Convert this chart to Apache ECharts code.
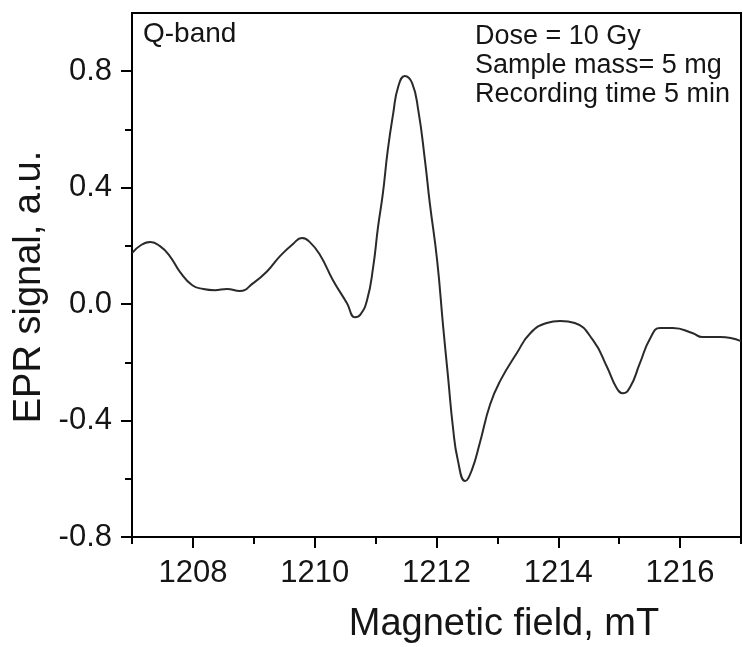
<!DOCTYPE html>
<html>
<head>
<meta charset="utf-8">
<script src="https://cdn.jsdelivr.net/npm/echarts@6/dist/echarts.min.js"></script>
<style>
html,body{margin:0;padding:0;background:#fff;}
#chart{width:743px;height:647px;}
</style>
</head>
<body>
<div id="chart"></div>
<script>
// Magnetic field (mT)
var fieldValues = [1207.00,1207.15,1207.30,1207.46,1207.62,1207.79,1207.99,1208.17,1208.36,1208.56,1208.77,1208.99,1209.22,1209.43,1209.64,1209.79,1209.92,1210.09,1210.30,1210.53,1210.66,1210.75,1210.86,1210.96,1211.04,1211.12,1211.20,1211.29,1211.37,1211.48,1211.60,1211.70,1211.81,1211.89,1212.01,1212.11,1212.19,1212.27,1212.35,1212.47,1212.58,1212.71,1212.88,1213.05,1213.32,1213.54,1213.81,1214.03,1214.27,1214.57,1214.80,1214.96,1215.06,1215.18,1215.34,1215.51,1215.67,1215.88,1216.21,1216.36,1216.66,1217.00];
// EPR signal (a.u.)
var signalValues = [0.175,0.203,0.213,0.199,0.165,0.110,0.065,0.052,0.048,0.052,0.045,0.072,0.113,0.165,0.206,0.227,0.213,0.168,0.082,0.003,-0.045,-0.036,0.014,0.127,0.265,0.381,0.529,0.656,0.746,0.784,0.759,0.667,0.495,0.347,0.151,-0.079,-0.251,-0.423,-0.536,-0.608,-0.570,-0.478,-0.345,-0.262,-0.168,-0.100,-0.065,-0.058,-0.065,-0.124,-0.216,-0.289,-0.306,-0.285,-0.203,-0.117,-0.082,-0.082,-0.100,-0.113,-0.113,-0.127];

var xMajorTicks = [1208,1210,1212,1214,1216];
var xMinorTicks = [1207,1209,1211,1213,1215,1217];
var yMajorTicks = [-0.8,-0.4,0.0,0.4,0.8];
var yMinorTicks = [-0.6,-0.2,0.2,0.6];

var xTitle = 'Magnetic field, mT';
var yTitle = 'EPR signal, a.u.';
var noteLeft = 'Q-band';
var noteRight = ['Dose = 10 Gy','Sample mass= 5 mg','Recording time 5 min'];

var FONT = '"Liberation Sans", Arial, sans-serif';
var TXT = '#151515';

var data = fieldValues.map(function(v,i){return [v, signalValues[i]];});

var chart = echarts.init(document.getElementById('chart'));
var axisLineStyle = {color:'#000', width:2};
chart.setOption({
  animation:false,
  backgroundColor:'#fff',
  grid:{left:132, right:2, top:13, bottom:110, show:true, borderColor:'#000', borderWidth:2, backgroundColor:'transparent'},
  xAxis:[{
    type:'value', min:1207, max:1217, interval:1,
    axisLine:{show:true, onZero:false, lineStyle:axisLineStyle},
    axisTick:{show:true, inside:false, length:11, lineStyle:{color:'#000',width:2}, customValues:xMajorTicks},
    axisLabel:{show:true, margin:21, fontSize:31, fontFamily:FONT, color:TXT, customValues:xMajorTicks,
      formatter:function(v){return String(v);}},
    splitLine:{show:false}
  },{
    type:'value', min:1207, max:1217, interval:1, position:'bottom',
    axisLine:{show:false, onZero:false},
    axisTick:{show:true, inside:false, length:7, lineStyle:{color:'#000',width:2}, customValues:xMinorTicks},
    axisLabel:{show:false},
    splitLine:{show:false}
  }],
  yAxis:[{
    type:'value', min:-0.8, max:1.0, interval:0.2,
    axisLine:{show:true, onZero:false, lineStyle:axisLineStyle},
    axisTick:{show:true, inside:false, length:11, lineStyle:{color:'#000',width:2}, customValues:yMajorTicks},
    axisLabel:{show:true, margin:20, fontSize:31, fontFamily:FONT, color:TXT, customValues:yMajorTicks,
      formatter:function(v){return v.toFixed(1);}},
    splitLine:{show:false}
  },{
    type:'value', min:-0.8, max:1.0, interval:0.2, position:'left',
    axisLine:{show:false, onZero:false},
    axisTick:{show:true, inside:false, length:7, lineStyle:{color:'#000',width:2}, customValues:yMinorTicks},
    axisLabel:{show:false},
    splitLine:{show:false}
  }],
  series:[{
    type:'line', data:data, xAxisIndex:0, yAxisIndex:0,
    showSymbol:false, smooth:0.5,
    lineStyle:{color:'#2a2a2a', width:2}
  }],
  graphic:[
    {type:'text', left:143, top:20, style:{text:noteLeft, font:'28px '+FONT, fill:TXT}},
    {type:'text', left:475, top:22, style:{text:noteRight.join('\n'), font:'27px '+FONT, fill:TXT, lineHeight:29}},
    {type:'text', x:504, y:625, style:{text:xTitle, font:'38px '+FONT, fill:TXT, align:'center', verticalAlign:'middle'}},
    {type:'text', x:30, y:287, rotation:Math.PI/2, style:{text:yTitle, font:'38px '+FONT, fill:TXT, align:'center', verticalAlign:'middle'}}
  ]
});
</script>
</body>
</html>
